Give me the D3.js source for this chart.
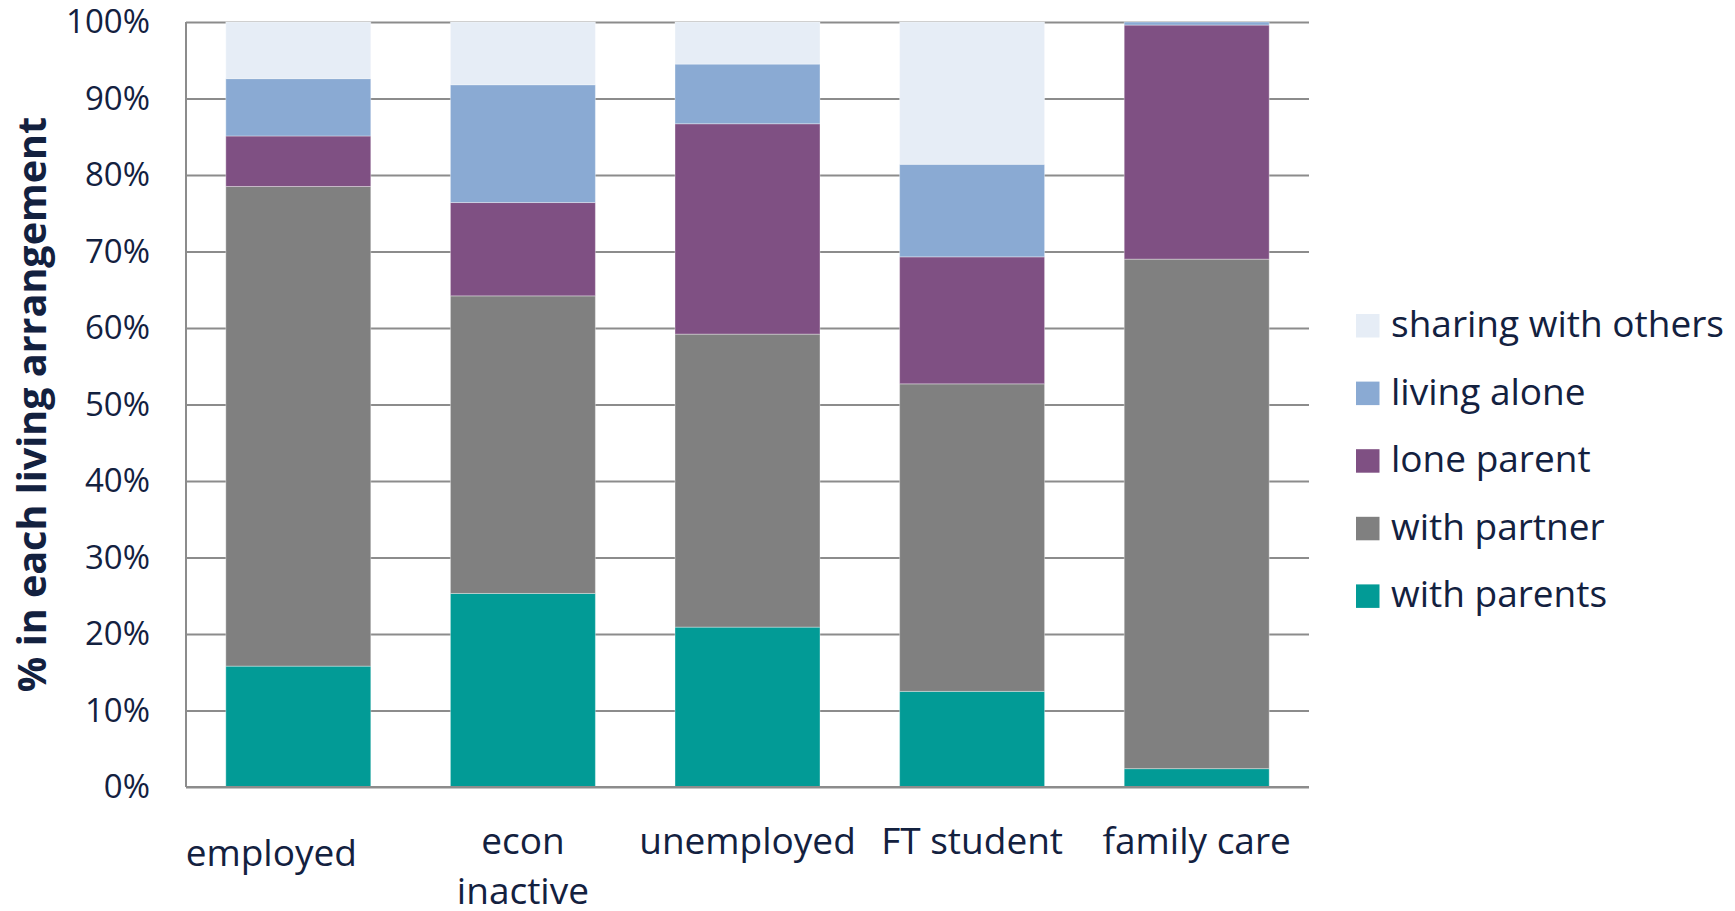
<!DOCTYPE html>
<html>
<head>
<meta charset="utf-8">
<script src="https://cdn.jsdelivr.net/npm/d3@7"></script>
<style>
  html, body { margin: 0; padding: 0; background: #ffffff; }
  svg { display: block; }
  text { font-family: "Open Sans", "Noto Sans", sans-serif; fill: #13213f; }
</style>
</head>
<body>
<svg id="chart" width="1735" height="911"></svg>
<script>
// Employment status groups (x axis)
const categories = ["employed", "econ inactive", "unemployed", "FT student", "family care"];
// Wrapped label lines for each group
const categoryLines = [["employed"], ["econ", "inactive"], ["unemployed"], ["FT student"], ["family care"]];

// Living arrangements, stacked from the bottom up
const seriesNames = ["with parents", "with partner", "lone parent", "living alone", "sharing with others"];

// Share (%) of each group in each living arrangement
const withParents  = [15.8, 25.3, 20.9, 12.5,  2.4];
const withPartner  = [62.7, 38.9, 38.3, 40.2, 66.6];
const loneParent   = [ 6.6, 12.2, 27.5, 16.6, 30.6];
const livingAlone  = [ 7.5, 15.4,  7.8, 12.1,  0.4];
const sharing      = [ 7.4,  8.2,  5.5, 18.6,  0.0];

// Y axis ticks
const yTicks = [0, 10, 20, 30, 40, 50, 60, 70, 80, 90, 100];
const yTitle = "% in each living arrangement";

const seriesColors = ["#029b96", "#808080", "#7f5083", "#8aaad3", "#e6edf6"];

// Build the table for d3.stack
const seriesValues = [withParents, withPartner, loneParent, livingAlone, sharing];
const table = categories.map((c, i) => {
  const row = { category: c };
  seriesNames.forEach((s, k) => { row[s] = seriesValues[k][i]; });
  return row;
});

const svg = d3.select("#chart");
const plot = { left: 186, right: 1309, top: 22, bottom: 787 };

const x = d3.scaleBand()
  .domain(categories)
  .range([plot.left, plot.right])
  .paddingInner(0.3545)
  .paddingOuter(0.3545 / 2);

const y = d3.scaleLinear().domain([0, 100]).range([plot.bottom, plot.top]);
const color = d3.scaleOrdinal().domain(seriesNames).range(seriesColors);

// Gridlines and percentage labels
const yAxis = svg.append("g")
  .attr("transform", `translate(${plot.left},0)`)
  .call(d3.axisLeft(y)
    .tickValues(yTicks)
    .tickFormat(d => d + "%")
    .tickSize(-(plot.right - plot.left))
    .tickPadding(36));
yAxis.select(".domain").remove();
yAxis.selectAll(".tick line").attr("stroke", "#8c8c8c").attr("stroke-width", 2);
yAxis.selectAll(".tick text")
  .attr("font-size", 33)
  .attr("fill", "#13213f")
  .style("font-family", "'Open Sans', sans-serif");

// Stacked bars
const stacked = d3.stack().keys(seriesNames)(table);
svg.append("g")
  .selectAll("g")
  .data(stacked)
  .join("g")
  .attr("fill", d => color(d.key))
  .selectAll("rect")
  .data(d => d)
  .join("rect")
  .attr("x", d => x(d.data.category))
  .attr("width", x.bandwidth())
  .attr("y", d => y(d[1]))
  .attr("height", d => Math.max(0, y(d[0]) - y(d[1])))
  .attr("stroke", "#ffffff")
  .attr("stroke-opacity", 0.35)
  .attr("stroke-width", 1);

// Left and bottom axis lines
const axisLines = svg.append("g").attr("stroke", "#8c8c8c").attr("stroke-width", 2);
axisLines.append("line")
  .attr("x1", plot.left).attr("x2", plot.left)
  .attr("y1", y(100)).attr("y2", y(0));
axisLines.append("line")
  .attr("x1", plot.left).attr("x2", plot.right)
  .attr("y1", y(0)).attr("y2", y(0));

// Category labels (wrapped); "employed" sits a little lower and to the left
const labelNudge = { "employed": [-27, 12] };
const labels = svg.append("g")
  .attr("text-anchor", "middle")
  .attr("font-size", 37);
categories.forEach((c, i) => {
  const [dx, dy] = labelNudge[c] || [0, 0];
  const t = labels.append("text")
    .attr("x", x(c) + x.bandwidth() / 2 + dx)
    .attr("y", y(0) + 67 + dy);
  categoryLines[i].forEach((line, j) => {
    t.append("tspan")
      .attr("x", x(c) + x.bandwidth() / 2 + dx)
      .attr("dy", j === 0 ? 0 : 50)
      .text(line);
  });
});

// Y axis title
svg.append("text")
  .attr("transform", `translate(46,${(y(0) + y(100)) / 2}) rotate(-90)`)
  .attr("text-anchor", "middle")
  .attr("font-size", 39.5)
  .attr("font-weight", 700)
  .text(yTitle);

// Legend, top entry is the top of the stack
const legendOrder = seriesNames.slice().reverse();
const legend = svg.append("g").attr("transform", "translate(1356,314)");
const item = legend.selectAll("g")
  .data(legendOrder)
  .join("g")
  .attr("transform", (d, i) => `translate(0,${i * 67.6})`);
item.append("rect")
  .attr("width", 23.5)
  .attr("height", 23.5)
  .attr("fill", d => color(d));
item.append("text")
  .attr("x", 35)
  .attr("y", 23)
  .attr("font-size", 37)
  .text(d => d);
</script>
</body>
</html>
